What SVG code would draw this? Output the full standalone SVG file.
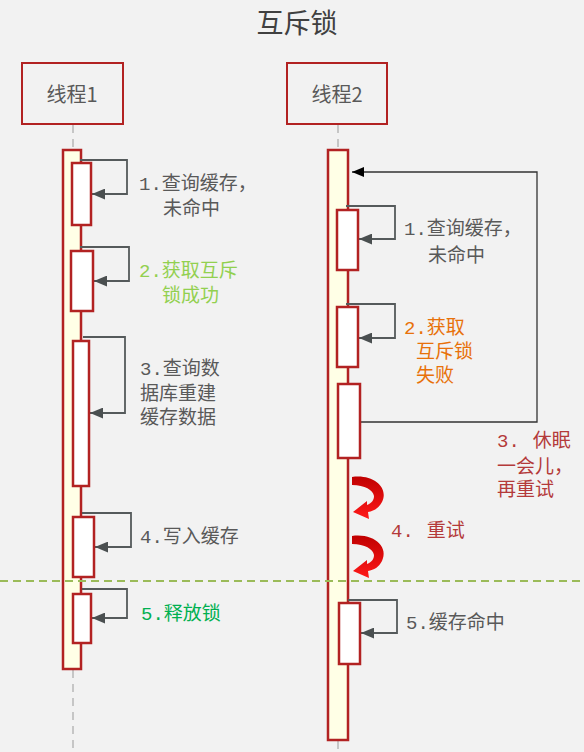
<svg xmlns="http://www.w3.org/2000/svg" width="584" height="752" viewBox="0 0 584 752">
<style>
text{font-family:"Noto Sans CJK SC","Noto Sans",sans-serif;font-size:19px;fill:#595959}
.m{font-family:"Liberation Mono",monospace}
.title{font-size:27px;fill:#404040}
.head{font-size:20px;fill:#595959}
.box{fill:#f2f2f2;stroke:#b22222;stroke-width:2}
.bar{fill:#ffffe6;stroke:#b22222;stroke-width:2.5}
.act{fill:#ffffff;stroke:#b22222;stroke-width:2.5}
.life{stroke:#c6c6c6;stroke-width:2;stroke-dasharray:8,6;fill:none}
.self{fill:none;stroke:#555a5b;stroke-width:1.8;marker-end:url(#ah)}
.green{fill:#92d050}
.dgreen{fill:#00b050}
.orange{fill:#e8710a}
.red{fill:#b43a3a}
</style>
<defs>
<marker id="ah" viewBox="0 0 12 10" refX="12" refY="5" markerWidth="13" markerHeight="11" markerUnits="userSpaceOnUse" orient="auto">
<path d="M0,0 L12,5 L0,10 Z" fill="#4a4f50"/>
</marker>
<marker id="bh" viewBox="0 0 12 10" refX="12" refY="5" markerWidth="12" markerHeight="10" markerUnits="userSpaceOnUse" orient="auto">
<path d="M0,0 L12,5 L0,10 Z" fill="#000"/>
</marker>
<linearGradient id="rg" x1="0" y1="0" x2="0" y2="1">
<stop offset="0" stop-color="#c00000"/>
<stop offset="1" stop-color="#ff1a1a"/>
</linearGradient>
</defs>
<rect x="0" y="0" width="584" height="752" fill="#f2f2f2"/>
<text class="title" x="297" y="33" text-anchor="middle">互斥锁</text>

<g id="lifelines">
<path class="life" d="M73,125 V150 M73,670 V752"/>
<path class="life" d="M338,125 V150 M338,741 V752"/>
</g>

<g id="thread1">
<rect class="box" x="22" y="63" width="101" height="61"/>
<text class="head" x="72" y="102" text-anchor="middle">线程1</text>
</g>
<g id="thread2">
<rect class="box" x="287" y="63" width="100" height="61"/>
<text class="head" x="337" y="102" text-anchor="middle">线程2</text>
</g>

<g id="bar1"><rect class="bar" x="63" y="150" width="18" height="519"/></g>
<g id="bar2"><rect class="bar" x="328" y="150" width="20" height="590"/></g>

<g id="sep"><line x1="0" y1="581" x2="584" y2="581" stroke="#9bbb59" stroke-width="2" stroke-dasharray="8,5"/></g>

<g id="connectors">
<path class="self" d="M80,160 H127 V194 H92"/>
<path class="self" d="M80,247 H129 V281 H94"/>
<path class="self" d="M83,337 H125 V413 H90"/>
<path class="self" d="M82,513 H131 V547 H95"/>
<path class="self" d="M82,589 H127 V618 H92"/>
<path class="self" d="M346,206 H395 V239 H359"/>
<path class="self" d="M346,304 H395 V338 H359"/>
<path class="self" d="M348,600 H397 V633 H361"/>
<path d="M361,422 H537 V172 H352" fill="none" stroke="#333" stroke-width="1.3" marker-end="url(#bh)"/>
<path d="M352,477 C374,474 389,488 382,502 C379,508 374,511 368,512 L369,519 L353,512 L367,501 L367,505 C372,503 374,500 374,496 C373,490 365,485 352,485 Z" fill="url(#rg)"/>
<path d="M352,536 C374,533 389,547 382,561 C379,567 374,570 368,571 L369,578 L353,571 L367,560 L367,564 C372,562 374,559 374,555 C373,549 365,544 352,544 Z" fill="url(#rg)"/>
</g>

<g id="t1a1"><rect class="act" x="72" y="163" width="19" height="62"/>
<text x="139" y="190"><tspan class="m">1.</tspan>查询缓存，</text>
<text x="163" y="215">未命中</text></g>
<g id="t1a2"><rect class="act" x="71" y="251" width="22" height="60"/>
<text class="green" x="139" y="277"><tspan class="m green">2.</tspan>获取互斥</text>
<text class="green" x="162" y="302">锁成功</text></g>
<g id="t1a3"><rect class="act" x="73" y="341" width="16" height="145"/>
<text x="140" y="375"><tspan class="m">3.</tspan>查询数</text>
<text x="140" y="400">据库重建</text>
<text x="140" y="424">缓存数据</text></g>
<g id="t1a4"><rect class="act" x="73" y="517" width="21" height="60"/>
<text x="140" y="543"><tspan class="m">4.</tspan>写入缓存</text></g>
<g id="t1a5"><rect class="act" x="73" y="594" width="18" height="49"/>
<text class="dgreen" x="141" y="620"><tspan class="m dgreen">5.</tspan>释放锁</text></g>

<g id="t2a1"><rect class="act" x="337" y="210" width="21" height="60"/>
<text x="404" y="235"><tspan class="m">1.</tspan>查询缓存，</text>
<text x="428" y="262">未命中</text></g>
<g id="t2a2"><rect class="act" x="337" y="307" width="21" height="60"/>
<text class="orange" x="404" y="334"><tspan class="m orange">2.</tspan>获取</text>
<text class="orange" x="416" y="358">互斥锁</text>
<text class="orange" x="416" y="382">失败</text></g>
<g id="t2a3"><rect class="act" x="338" y="384" width="22" height="74"/>
<text class="red" x="497" y="447"><tspan class="m red">3.</tspan><tspan dx="13">休眠</tspan></text>
<text class="red" x="497" y="473">一会儿，</text>
<text class="red" x="497" y="496">再重试</text></g>
<g id="t2retry">
<text class="red" x="391" y="537"><tspan class="m red">4.</tspan><tspan dx="13">重试</tspan></text></g>
<g id="t2a5"><rect class="act" x="339" y="603" width="21" height="61"/>
<text x="406" y="629"><tspan class="m">5.</tspan>缓存命中</text></g>
</svg>
